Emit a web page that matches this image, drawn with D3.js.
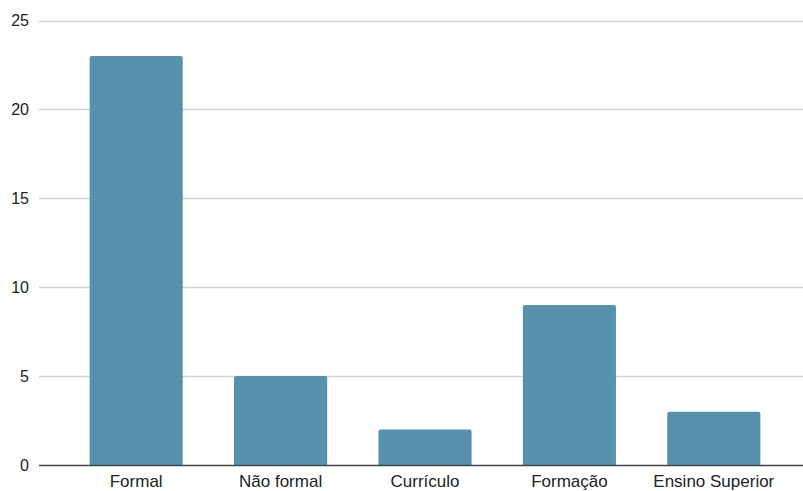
<!DOCTYPE html>
<html>
<head>
<meta charset="utf-8">
<script src="https://cdn.jsdelivr.net/npm/d3@7"></script>
<style>
  body { margin: 0; background: #fff; }
  text { font-family: "Liberation Sans", Arial, sans-serif; fill: #222; }
</style>
</head>
<body>
<div id="chart"></div>
<script>
// data
var categories = ["Formal", "Não formal", "Currículo", "Formação", "Ensino Superior"];
var values = [23, 5, 2, 9, 3];
var yTicks = [0, 5, 10, 15, 20, 25];

var width = 803, height = 491;
var gridLeft = 39, gridRight = 803;

var svg = d3.select("#chart")
  .append("svg")
  .attr("width", width)
  .attr("height", height);

var x = d3.scaleBand()
  .domain(categories)
  .range([64, 786])
  .paddingInner(0.355)
  .paddingOuter(0.1775);

var y = d3.scaleLinear()
  .domain([0, 25])
  .range([465, 20.5]);

// gridlines
svg.append("g")
  .selectAll("line")
  .data(yTicks.filter(d => d > 0))
  .enter().append("line")
  .attr("x1", gridLeft)
  .attr("x2", gridRight)
  .attr("y1", d => Math.round(y(d)) + 0.5)
  .attr("y2", d => Math.round(y(d)) + 0.5)
  .attr("stroke", "#d0d0d0")
  .attr("stroke-width", 1.3);

// y tick labels
svg.append("g")
  .selectAll("text")
  .data(yTicks)
  .enter().append("text")
  .attr("x", 29)
  .attr("y", d => y(d))
  .attr("dy", "0.35em")
  .attr("text-anchor", "end")
  .attr("font-size", 16)
  .text(d => d);

// bars with small rounded tops
var r = 2;
svg.append("g")
  .selectAll("path")
  .data(values)
  .enter().append("path")
  .attr("fill", "#5891ad")
  .attr("d", function(d, i) {
    var x0 = x(categories[i]), w = x.bandwidth();
    var y0 = y(d), y1 = y(0);
    return "M" + x0 + "," + y1 +
      "V" + (y0 + r) +
      "Q" + x0 + "," + y0 + " " + (x0 + r) + "," + y0 +
      "H" + (x0 + w - r) +
      "Q" + (x0 + w) + "," + y0 + " " + (x0 + w) + "," + (y0 + r) +
      "V" + y1 + "Z";
  });

// baseline
svg.append("line")
  .attr("x1", gridLeft)
  .attr("x2", gridRight)
  .attr("y1", Math.round(y(0)) + 0.5)
  .attr("y2", Math.round(y(0)) + 0.5)
  .attr("stroke", "#444")
  .attr("stroke-width", 1.3);

// x labels
svg.append("g")
  .selectAll("text")
  .data(categories)
  .enter().append("text")
  .attr("x", d => x(d) + x.bandwidth() / 2)
  .attr("y", 487)
  .attr("text-anchor", "middle")
  .attr("font-size", 17)
  .text(d => d);
</script>
</body>
</html>
